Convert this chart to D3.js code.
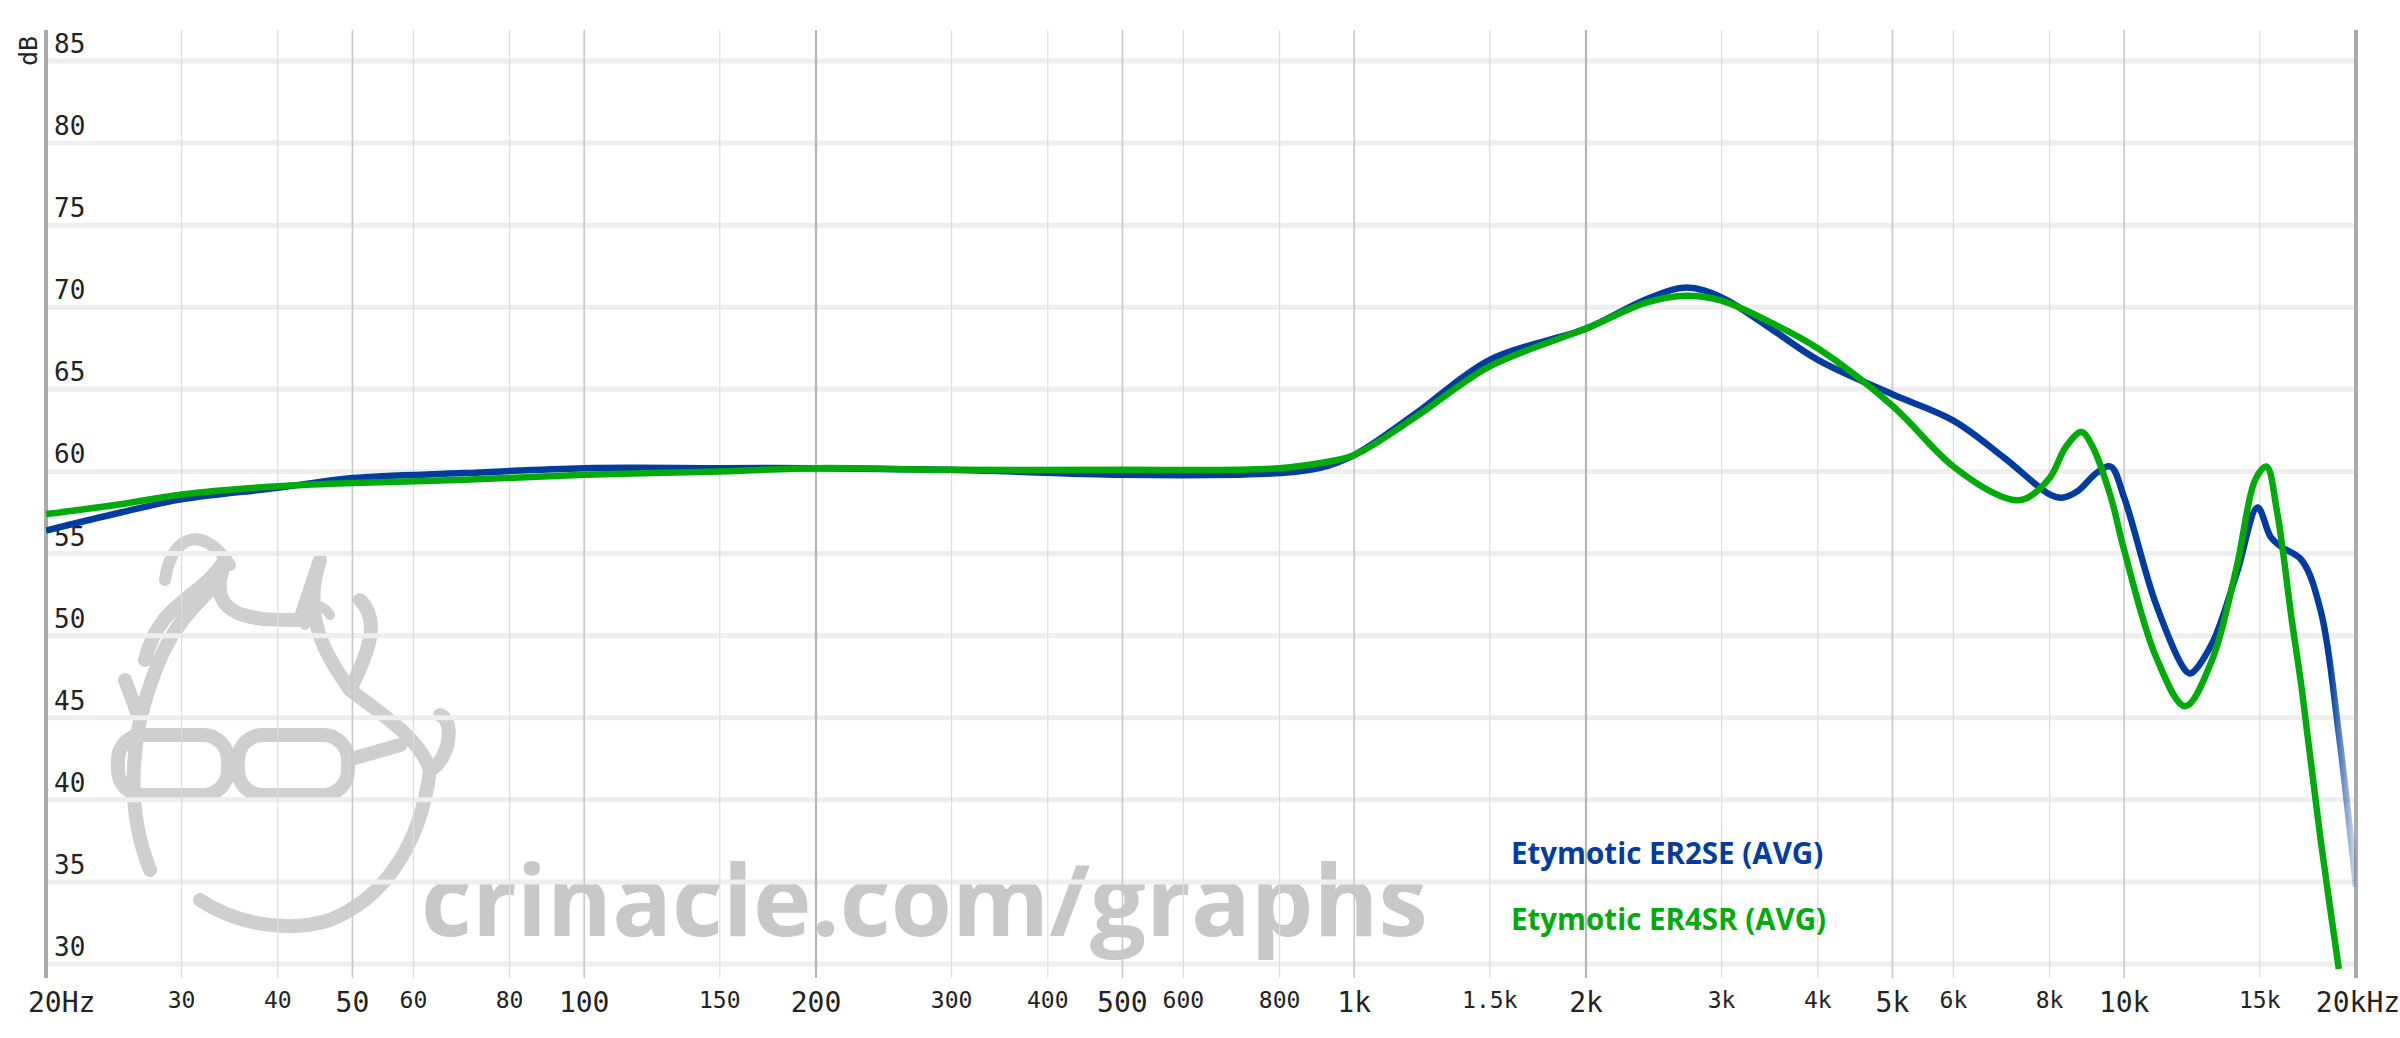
<!DOCTYPE html>
<html><head><meta charset="utf-8">
<script src="https://cdn.jsdelivr.net/npm/d3@7"></script>
<style>body{margin:0;background:#fff}svg{display:block}</style>
</head><body>
<svg id="c" width="2400" height="1038"></svg>
<script>
const freqs = [20,25,30,40,50,70,100,150,200,300,500,700,800,900,1000,1200,1500,2000,2400,2700,3000,3500,4000,5000,6000,7000,8000,8300,8700,9200,9600,10000,11000,12000,12200,13000,14000,14900,15500,16000,17000,18000,19000,20000];
const er2se = [56.4,57.5,58.3,59.0,59.6,59.9,60.2,60.2,60.2,60.1,59.8,59.8,59.9,60.2,61.0,63.5,66.8,68.7,70.5,71.2,70.6,68.6,66.8,64.7,63.1,60.8,58.6,58.4,58.8,59.9,60.3,58.4,51.9,47.9,47.7,49.5,53.8,57.8,56.0,55.4,54.6,51.5,44.0,34.7];
const er4srF = [20,25,30,40,50,70,100,150,200,300,500,700,800,900,1000,1200,1500,2000,2400,2700,3000,3500,4000,5000,6000,7000,7400,8000,8400,8800,9100,9600,10000,11000,12000,13000,14000,14800,15300,15800,16500,17000,18000,19000];
const er4sr = [57.4,58.0,58.6,59.1,59.3,59.5,59.8,60.0,60.2,60.1,60.1,60.1,60.2,60.5,61.0,63.3,66.4,68.7,70.3,70.7,70.4,69.0,67.5,64.0,60.3,58.4,58.3,59.6,61.5,62.4,61.5,58.5,55.2,48.7,45.7,48.5,54.2,59.5,60.3,57.5,51.0,46.8,37.5,29.7];
const yTicks = [30,35,40,45,50,55,60,65,70,75,80,85];
const xTicks = [20,30,40,50,60,80,100,150,200,300,400,500,600,800,1000,1500,2000,3000,4000,5000,6000,8000,10000,15000,20000];
const xLabels = ["20Hz","30","40","50","60","80","100","150","200","300","400","500","600","800","1k","1.5k","2k","3k","4k","5k","6k","8k","10k","15k","20kHz"];
const bigLabels = [20,50,100,200,500,1000,2000,5000,10000,20000];
const names = ["Etymotic ER2SE (AVG)","Etymotic ER4SR (AVG)"];
const colors = ["#003c9e","#00aa0a"];

const svg = d3.select("#c");
const L=46,R=2356,T=30,B=978;
const x = d3.scaleLog().domain([20,20000]).range([L,R]);
const y = d3.scaleLinear().domain([85,30]).range([61,964]);

// watermark
const wm = svg.append("g").attr("fill","none").attr("stroke","#cfcfcf").attr("stroke-width",14).attr("stroke-linecap","round").attr("stroke-linejoin","round");
wm.append("path").attr("d","M150,870 C130,820 130,770 140,720 L125,680 M140,720 C160,640 180,620 220,580 L225,560 C200,600 160,600 145,660 M220,580 C215,620 260,620 300,620 L320,560 C300,620 330,660 350,690 C370,650 380,620 360,600 M350,690 C390,720 420,740 430,770 C450,760 455,720 440,715 M430,770 C420,850 380,900 330,920 C280,935 230,920 200,900");
wm.append("rect").attr("x",118).attr("y",735).attr("width",110).attr("height",60).attr("rx",25);
wm.append("rect").attr("x",238).attr("y",735).attr("width",110).attr("height",60).attr("rx",25);
wm.append("path").attr("d","M228,765 L238,765 M348,760 L400,745");
wm.append("path").attr("d","M165,580 C170,540 200,520 230,565").attr("stroke-width",12);
wm.append("path").attr("d","M305,625 C300,600 320,600 330,615").attr("stroke-width",10);
svg.append("text").attr("x",421).attr("y",936).attr("font-family","Open Sans").attr("font-weight",700).attr("font-size",99).attr("fill","#c8c8c8").text("crinacle.com/graphs");

// horizontal grid
svg.append("g").selectAll("line").data(yTicks).join("line")
 .attr("x1",L).attr("x2",R).attr("y1",d=>y(d)).attr("y2",d=>y(d)).attr("stroke","#eeeeee").attr("stroke-width",5);
// vertical grid
svg.append("g").selectAll("line").data(xTicks.slice(1,-1)).join("line")
 .attr("x1",d=>x(d)).attr("x2",d=>x(d)).attr("y1",T).attr("y2",B)
 .attr("stroke",d=>[200,2000].includes(d)?"#b5b5b5":(bigLabels.includes(d)?"#c8c8c8":"#dddddd"))
 .attr("stroke-width",d=>[200,2000].includes(d)?2.2:(bigLabels.includes(d)?1.6:1.2));
svg.append("line").attr("x1",L).attr("x2",L).attr("y1",T).attr("y2",B).attr("stroke","#aaaaaa").attr("stroke-width",4);
svg.append("line").attr("x1",R).attr("x2",R).attr("y1",T).attr("y2",B).attr("stroke","#aaaaaa").attr("stroke-width",4);

// y labels
svg.append("g").selectAll("text").data(yTicks).join("text")
 .attr("x",54).attr("y",d=>y(d)-8).attr("font-family","DejaVu Sans Mono").attr("font-size",26).attr("fill","#222").text(d=>d);
svg.append("text").attr("transform","translate(37,66) rotate(-90)").attr("font-family","DejaVu Sans Mono").attr("font-size",25).attr("fill","#222").text("dB");
// x labels
svg.append("g").selectAll("text").data(xTicks).join("text")
 .attr("x",(d,i)=>i==0?L-18:(i==xTicks.length-1?R+2:x(d)))
 .attr("y",d=>bigLabels.includes(d)?1012:1008)
 .attr("text-anchor",(d,i)=>i==0?"start":"middle")
 .attr("font-family","DejaVu Sans Mono").attr("font-size",d=>bigLabels.includes(d)?28:23).attr("fill","#222")
 .text((d,i)=>xLabels[i]);

const defs = svg.append("defs");
const g = defs.append("linearGradient").attr("id","fade").attr("gradientUnits","userSpaceOnUse")
 .attr("x1",x(18500)).attr("x2",x(20000)).attr("y1",0).attr("y2",0);
g.append("stop").attr("offset","0").attr("stop-color",colors[0]).attr("stop-opacity",1);
g.append("stop").attr("offset","1").attr("stop-color",colors[0]).attr("stop-opacity",0.15);
defs.append("clipPath").attr("id","clip").append("rect").attr("x",L).attr("y",T).attr("width",R-L).attr("height",B-T);

const line = d3.line().x(d=>x(d[0])).y(d=>y(d[1])).curve(d3.curveCatmullRom.alpha(0.5));
const pg = svg.append("g").attr("clip-path","url(#clip)");
pg.append("path").attr("d",line(freqs.map((f,i)=>[f,er2se[i]]))).attr("fill","none").attr("stroke","url(#fade)").attr("stroke-width",6.5);
pg.append("path").attr("d",line(er4srF.map((f,i)=>[f,er4sr[i]]))).attr("fill","none").attr("stroke",colors[1]).attr("stroke-width",6.5);

svg.append("g").selectAll("text").data(names).join("text")
 .attr("x",1511).attr("y",(d,i)=>864+i*66).attr("font-family","Open Sans").attr("font-weight",700).attr("font-size",29.5)
 .attr("fill",(d,i)=>colors[i]).text(d=>d);
</script>
</body></html>
